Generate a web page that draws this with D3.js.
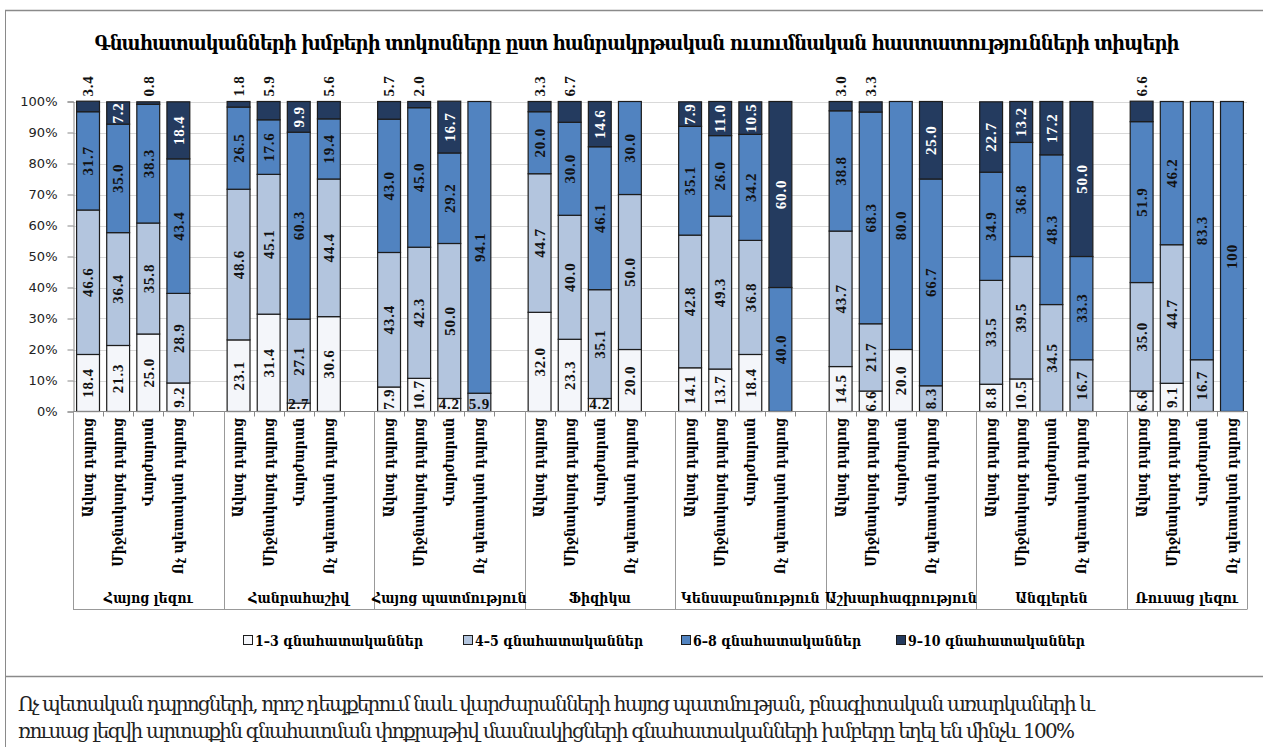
<!DOCTYPE html>
<html>
<head>
<meta charset="utf-8">
<script src="https://cdn.jsdelivr.net/npm/d3@7"></script>
<style>
  body { margin: 0; background: #fff; }
  svg { display: block; }
</style>
</head>
<body>
<svg id="chartSvg" width="1263" height="747"></svg>
<script>
// subjects (groups) and school types (bars in each group)
const groups = ["Հայոց լեզու", "Հանրահաշիվ", "Հայոց պատմություն", "Ֆիզիկա",
    "Կենսաբանություն", "Աշխարհագրություն", "Անգլերեն", "Ռուսաց լեզու"];
const schoolTypes = ["Ավագ դպրոց", "Միջնակարգ դպրոց", "Վարժարան", "Ոչ պետական դպրոց"];
const seriesNames = ["1–3 գնահատականներ", "4–5 գնահատականներ", "6–8 գնահատականներ", "9–10 գնահատականներ"];
const yTicks = [0, 10, 20, 30, 40, 50, 60, 70, 80, 90, 100];

// one value per bar, group by group, school types in order above
const grade1to3 = [18.4, 21.3, 25.0, 9.2,   23.1, 31.4, 2.7, 30.6,   7.9, 10.7, 4.2, 0,
    32.0, 23.3, 4.2, 20.0,   14.1, 13.7, 18.4, 0,   14.5, 6.6, 20.0, 0,
    8.8, 10.5, 0, 0,   6.6, 9.1, 0, 0];
const grade4to5 = [46.6, 36.4, 35.8, 28.9,   48.6, 45.1, 27.1, 44.4,   43.4, 42.3, 50.0, 5.9,
    44.7, 40.0, 35.1, 50.0,   42.8, 49.3, 36.8, 0,   43.7, 21.7, 0, 8.3,
    33.5, 39.5, 34.5, 16.7,   35.0, 44.7, 16.7, 0];
const grade6to8 = [31.7, 35.0, 38.3, 43.4,   26.5, 17.6, 60.3, 19.4,   43.0, 45.0, 29.2, 94.1,
    20.0, 30.0, 46.1, 30.0,   35.1, 26.0, 34.2, 40.0,   38.8, 68.3, 80.0, 66.7,
    34.9, 36.8, 48.3, 33.3,   51.9, 46.2, 83.3, 100];
const grade9to10 = [3.4, 7.2, 0.8, 18.4,   1.8, 5.9, 9.9, 5.6,   5.7, 2.0, 16.7, 0,
    3.3, 6.7, 14.6, 0,   7.9, 11.0, 10.5, 60.0,   3.0, 3.3, 0, 25.0,
    22.7, 13.2, 17.2, 50.0,   6.6, 0, 0, 0];

const titleText = "Գնահատականների խմբերի տոկոսները ըստ հանրակրթական ուսումնական հաստատությունների տիպերի";
const noteLines = [
    "Ոչ պետական դպրոցների, որոշ դեպքերում նաև վարժարանների հայոց պատմության, բնագիտական առարկաների և",
    "ռուսաց լեզվի արտաքին գնահատման փոքրաթիվ մասնակիցների գնահատականների խմբերը եղել են մինչև 100%"
];

const colors = ["#f4f6fa", "#b3c5de", "#5183c0", "#243b5f"];
const armFont = "'DejaVu Serif Condensed', 'DejaVu Serif', serif";
const numFont = "'Liberation Serif', 'DejaVu Serif', serif";

const keys = ["s1", "s2", "s3", "s4"];
const rows = [];
const slots = [];
groups.forEach((g, gi) => {
    schoolTypes.forEach((t, ti) => {
        const i = gi * 4 + ti;
        const id = `b${gi}-${ti}`;
        rows.push({ id, group: gi, type: t, s1: grade1to3[i], s2: grade4to5[i], s3: grade6to8[i], s4: grade9to10[i] });
        slots.push(id);
    });
    if (gi < groups.length - 1) slots.push(`gap${gi}`);
});

const svg = d3.select("#chartSvg");
const plotLeft = 73, plotRight = 1247, plotTop = 101.5, plotBottom = 411.5, boxBottom = 609.5;

const x = d3.scaleBand().domain(slots).range([plotLeft, plotRight]).paddingInner(0.24).paddingOuter(0.12);
const y = d3.scaleLinear().domain([0, 100]).range([plotBottom, plotTop]);
const step = x.step();

// page frame
svg.append("line").attr("x1", 5.5).attr("x2", 5.5).attr("y1", 10).attr("y2", 747).attr("stroke", "#8a8a8a");
svg.append("line").attr("x1", 5).attr("x2", 1263).attr("y1", 10.5).attr("y2", 10.5).attr("stroke", "#8a8a8a").attr("stroke-width", 1.5);
svg.append("line").attr("x1", 5).attr("x2", 1263).attr("y1", 676.5).attr("y2", 676.5).attr("stroke", "#8a8a8a").attr("stroke-width", 1.5);

// title
svg.append("text")
    .attr("x", 637).attr("y", 50)
    .attr("text-anchor", "middle")
    .attr("textLength", 1085)
    .style("font-family", armFont).style("font-weight", "bold").style("font-size", "20px")
    .text(titleText);

// grid
svg.append("g").selectAll("line")
    .data(yTicks.slice(1))
    .join("line")
    .attr("x1", plotLeft).attr("x2", plotRight)
    .attr("y1", d => Math.round(y(d)) + 0.5).attr("y2", d => Math.round(y(d)) + 0.5)
    .attr("stroke", "#d9d9d9");

// y axis
const yAxis = svg.append("g")
    .attr("transform", `translate(${plotLeft + 0.5},0)`)
    .call(d3.axisLeft(y).tickValues(yTicks).tickFormat(d => d + "%").tickSize(6).tickPadding(10));
yAxis.select(".domain").attr("stroke", "#888");
yAxis.selectAll(".tick line").attr("stroke", "#888");
yAxis.selectAll("text")
    .style("font-family", "'DejaVu Sans', sans-serif").style("font-size", "13px").attr("fill", "#222");

// bars
const stacked = d3.stack().keys(keys)(rows);
const layer = svg.append("g").selectAll("g")
    .data(stacked)
    .join("g")
    .attr("fill", (d, i) => colors[i]);

layer.selectAll("rect")
    .data(d => d.filter(s => s[1] - s[0] > 0))
    .join("rect")
    .attr("x", d => x(d.data.id))
    .attr("y", d => y(d[1]))
    .attr("width", x.bandwidth())
    .attr("height", d => y(d[0]) - y(d[1]))
    .attr("stroke", "#1c1c1c")
    .attr("stroke-width", 1.2);

// x axis box
const xAxis = svg.append("g");
xAxis.append("line").attr("x1", plotLeft).attr("x2", plotRight).attr("y1", plotBottom).attr("y2", plotBottom).attr("stroke", "#888");
xAxis.append("line").attr("x1", plotLeft).attr("x2", plotRight).attr("y1", boxBottom).attr("y2", boxBottom).attr("stroke", "#999");
xAxis.selectAll(".slotTick")
    .data(d3.range(slots.length + 1))
    .join("line")
    .attr("class", "slotTick")
    .attr("x1", k => Math.round(plotLeft + k * step) + 0.5).attr("x2", k => Math.round(plotLeft + k * step) + 0.5)
    .attr("y1", plotBottom).attr("y2", plotBottom + 5)
    .attr("stroke", "#888");
const dividers = groups.map((g, gi) => plotLeft + gi * 5 * step).concat([plotRight]);
xAxis.selectAll(".divider")
    .data(dividers)
    .join("line")
    .attr("class", "divider")
    .attr("x1", d => Math.round(d) + 0.5).attr("x2", d => Math.round(d) + 0.5)
    .attr("y1", plotBottom).attr("y2", boxBottom)
    .attr("stroke", "#999");

xAxis.selectAll(".typeLabel")
    .data(rows)
    .join("text")
    .attr("class", "typeLabel")
    .attr("transform", d => `translate(${x(d.id) + x.bandwidth() / 2},418) rotate(-90)`)
    .attr("text-anchor", "end")
    .attr("dy", "0.35em")
    .style("font-family", armFont).style("font-weight", "bold").style("font-size", "14px")
    .text(d => d.type);

xAxis.selectAll(".groupLabel")
    .data(groups)
    .join("text")
    .attr("class", "groupLabel")
    .attr("x", (d, i) => (dividers[i] + dividers[i + 1]) / 2)
    .attr("y", 603)
    .attr("text-anchor", "middle")
    .style("font-family", armFont).style("font-weight", "bold").style("font-size", "14px")
    .text(d => d);

// value labels
const fmt = v => v === 100 ? "100" : v.toFixed(1);
const labels = [];
stacked.forEach((ser, si) => {
    ser.forEach(s => {
        const v = s.data[ser.key];
        if (v <= 0) return;
        const cx = x(s.data.id) + x.bandwidth() / 2;
        const lowest = keys.findIndex(k => s.data[k] > 0) === si;
        if (si === 3 && v < 7) {
            labels.push({ v, cx, cy: y(100) - 5, mode: "above", color: "#111" });
        } else if (lowest && v < 6) {
            labels.push({ v, cx, cy: y(0) - 3, mode: "flat", color: "#111" });
        } else {
            labels.push({ v, cx, cy: (y(s[0]) + y(s[1])) / 2, mode: "inside", color: si === 3 ? "#fff" : "#111" });
        }
    });
});

svg.append("g").selectAll("text")
    .data(labels)
    .join("text")
    .attr("transform", d => d.mode === "flat" ? `translate(${d.cx},${d.cy})` : `translate(${d.cx},${d.cy}) rotate(-90)`)
    .attr("text-anchor", d => d.mode === "above" ? "start" : "middle")
    .attr("dy", d => d.mode === "flat" ? 0 : "0.35em")
    .attr("fill", d => d.color)
    .style("font-family", numFont).style("font-weight", "bold").style("font-size", "15px")
    .style("letter-spacing", "0.8px")
    .text(d => fmt(d.v));

// legend
const legendX = [243, 463, 681, 896];
const legend = svg.append("g").selectAll("g")
    .data(seriesNames)
    .join("g")
    .attr("transform", (d, i) => `translate(${legendX[i]},641)`);
legend.append("rect")
    .attr("x", 0.5).attr("y", -5.5).attr("width", 9).attr("height", 9)
    .attr("fill", (d, i) => colors[i]).attr("stroke", "#1c1c1c");
legend.append("text")
    .attr("x", 12).attr("dy", "0.35em")
    .style("font-family", armFont).style("font-weight", "bold").style("font-size", "14px")
    .text(d => d);

// note under the chart
svg.append("g").selectAll("text")
    .data(noteLines)
    .join("text")
    .attr("x", 18)
    .attr("y", (d, i) => 711 + i * 27)
    .attr("textLength", (d, i) => i === 0 ? 1077 : 1057)
    .style("font-family", "'DejaVu Serif', serif").style("font-size", "20px").attr("fill", "#222")
    .text(d => d);
</script>
</body>
</html>
